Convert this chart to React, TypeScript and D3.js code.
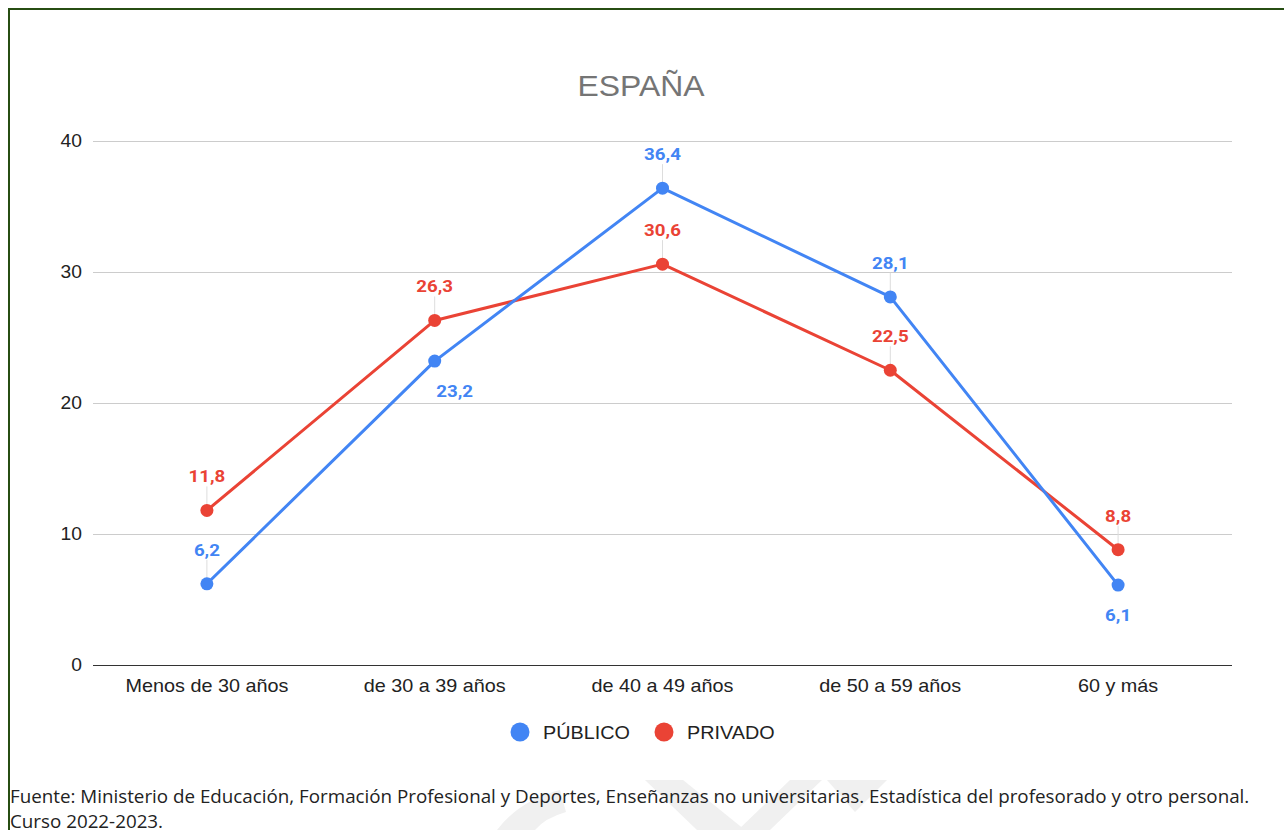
import React from "react";
import * as d3 from "d3";

const title = "ESPAÑA";
const categories = ["Menos de 30 años", "de 30 a 39 años", "de 40 a 49 años", "de 50 a 59 años", "60 y más"];
const publico = [6.2, 23.2, 36.4, 28.1, 6.1];
const privado = [11.8, 26.3, 30.6, 22.5, 8.8];
const yTicks = [0, 10, 20, 30, 40];
// label placement: true = above point
const publicoAbove = [true, false, true, true, false];
const privadoAbove = [true, true, true, true, true];
const publicoShift = [0, 20, 0, 0, 0];
const privadoShift = [0, 0, 0, 0, 0];
const footerLines = [
  "Fuente: Ministerio de Educación, Formación Profesional y Deportes, Enseñanzas no universitarias. Estadística del profesorado y otro personal.",
  "Curso 2022-2023.",
];
const seriesDefs = [
  { name: "PRIVADO", values: privado, above: privadoAbove, shift: privadoShift, color: "#ea4335" },
  { name: "PÚBLICO", values: publico, above: publicoAbove, shift: publicoShift, color: "#4285f4" },
];
const legendItems = [
  { name: "PÚBLICO", color: "#4285f4" },
  { name: "PRIVADO", color: "#ea4335" },
];

const W = 1284;
const H = 830;
const plot = { left: 93, right: 1232, top: 141, bottom: 665 };
const SX = 1.1;

export default function App() {
  const x = d3.scaleBand<string>().domain(categories).range([plot.left, plot.right]);
  const y = d3.scaleLinear().domain([0, 40]).range([plot.bottom, plot.top]);
  const cx = (c: string) => (x(c) as number) + x.bandwidth() / 2;
  const line = d3
    .line<number>()
    .x((_, i) => cx(categories[i]))
    .y((v) => y(v));
  const fmt = (v: number) => v.toFixed(1).replace(".", ",");
  const sans = "'Liberation Sans', Arial, sans-serif";

  const T = (props: any) => {
    const { x: tx, y: ty, anchor, children, ...rest } = props;
    return (
      <text transform={`translate(${tx},${ty}) scale(${SX},1)`} textAnchor={anchor} {...rest}>
        {children}
      </text>
    );
  };

  return (
    <svg
      width={W}
      height={H}
      style={{ position: "absolute", left: 0, top: 0, background: "#fff" }}
    >
      {/* watermark */}
      <g fill="#f0f0f0" stroke="none">
        <path d="M497,830 Q520,800 560,790 L566,812 Q545,818 535,830 Z" />
        <polygon points="645,780 683,780 745,830 697,830" />
        <polygon points="827,780 887,780 855,812" />
        <polygon points="790,780 822,780 770,830 738,830" />
      </g>

      {/* border */}
      <path d="M9,840 L9,9 L1300,9" fill="none" stroke="#274e13" strokeWidth={2} />

      {/* title */}
      <T x={641} y={96} anchor="middle" fontFamily={sans} fontSize={29} fill="#757575">
        {title}
      </T>

      {/* gridlines */}
      {yTicks.map((t) => (
        <g key={t}>
          <line
            x1={plot.left}
            x2={plot.right}
            y1={Math.round(y(t)) + 0.5}
            y2={Math.round(y(t)) + 0.5}
            stroke={t === 0 ? "#333333" : "#cccccc"}
            strokeWidth={1}
          />
          <T x={82} y={y(t) + 6} anchor="end" fontFamily={sans} fontSize={17.5} fill="#222222">
            {t}
          </T>
        </g>
      ))}

      {/* x labels */}
      {categories.map((c) => (
        <T key={c} x={cx(c)} y={692} anchor="middle" fontFamily={sans} fontSize={18} fill="#222222">
          {c}
        </T>
      ))}

      {/* leader lines */}
      {seriesDefs.map((s) =>
        s.values.map((v, i) => {
          const px = cx(categories[i]);
          const py = y(v);
          return s.above[i] ? (
            <line key={s.name + i} x1={px} x2={px} y1={py - 24} y2={py} stroke="#dddddd" strokeWidth={1} />
          ) : null;
        })
      )}

      {/* lines and points */}
      {seriesDefs.map((s) => (
        <g key={s.name}>
          <path d={line(s.values) as string} fill="none" stroke={s.color} strokeWidth={3} strokeLinejoin="round" />
          {s.values.map((v, i) => (
            <circle key={i} cx={cx(categories[i])} cy={y(v)} r={6.5} fill={s.color} />
          ))}
        </g>
      ))}

      {/* data labels */}
      {seriesDefs.map((s) =>
        s.values.map((v, i) => {
          const px = cx(categories[i]) + s.shift[i];
          const py = y(v);
          const ty = s.above[i] ? py - 28 : py + 36;
          return (
            <T
              key={s.name + "l" + i}
              x={px}
              y={ty}
              anchor="middle"
              fontFamily="Roboto, sans-serif"
              fontWeight={700}
              fontSize={17}
              fill={s.color}
            >
              {fmt(v)}
            </T>
          );
        })
      )}

      {/* legend */}
      {legendItems.map((l, i) => {
        const lx = 520 + i * 144;
        return (
          <g key={l.name}>
            <circle cx={lx} cy={732} r={9.5} fill={l.color} />
            <T x={lx + 23} y={739} anchor="start" fontFamily={sans} fontSize={18} fill="#222222">
              {l.name}
            </T>
          </g>
        );
      })}

      {/* footer */}
      {footerLines.map((t, i) => (
        <text key={i} x={10} y={803 + i * 25} fontFamily="'Open Sans', sans-serif" fontSize={18.8} fill="#222222">
          {t}
        </text>
      ))}
    </svg>
  );
}
